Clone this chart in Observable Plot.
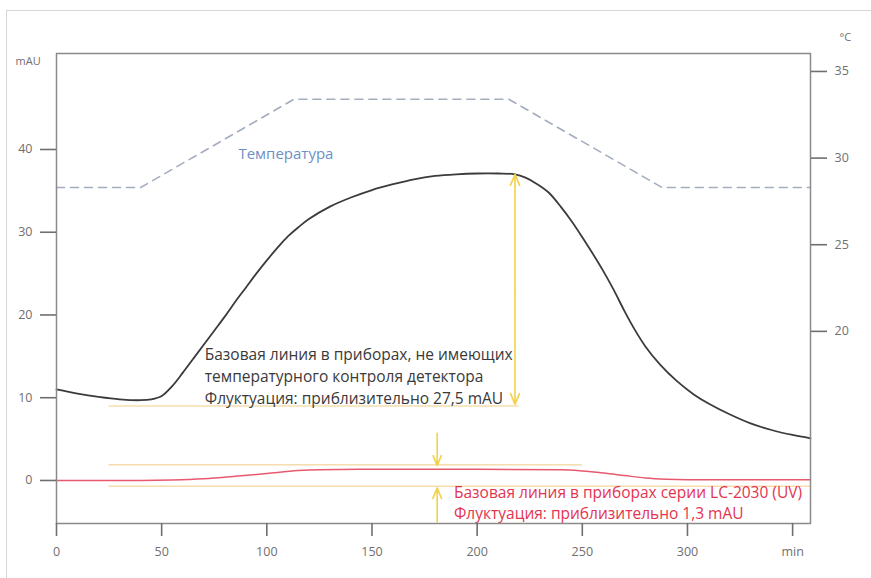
<!DOCTYPE html>
<html><head><meta charset="utf-8">
<script src="https://cdn.jsdelivr.net/npm/d3@7"></script>
<script src="https://cdn.jsdelivr.net/npm/@observablehq/plot@0.6"></script>
<style>
body{margin:0;background:#fff;}
#wrap{position:relative;width:871px;height:578px;overflow:hidden;border-left:1.5px solid #d6d6d6;border-top:1.5px solid #d6d6d6;box-sizing:border-box;margin-left:6px;margin-top:10px;}
</style></head><body><div id="wrap"></div>
<script>
// Detector signal without temperature control (mAU)
const timeMin = [0,10,20,30,40,45,50,55,60,65,70,75,80,85,90,95,100,105,110,115,120,130,140,150,160,170,180,190,200,210,218,223,228,234,240,245,250,255,260,265,270,275,280,287,295,303,310,320,330,340,350,358.5];
const absorbance = [11.0,10.5,10.1,9.8,9.7,9.8,10.2,11.4,13.0,14.7,16.4,18.1,19.8,21.6,23.3,25.0,26.6,28.1,29.5,30.6,31.6,33.1,34.2,35.1,35.8,36.4,36.8,37.0,37.1,37.1,37.0,36.6,35.9,34.8,33.0,31.3,29.4,27.4,25.3,23.0,20.5,18.2,16.2,14.0,12.0,10.4,9.3,8.0,6.9,6.1,5.5,5.1];
// LC-2030 baseline (mAU)
const lcTime = [0,40,55,70,85,100,115,125,150,200,240,250,260,270,280,290,300,358.5];
const lcValue = [0,0,0.05,0.2,0.5,0.85,1.2,1.3,1.35,1.35,1.3,1.15,0.9,0.6,0.3,0.15,0.1,0.1];
// Temperature programme (°C)
const tempTime = [0,40,113,215,288,358.5];
const tempValue = [28.3,28.3,33.4,33.4,28.3,28.3];
const tempTicks = [20,25,30,35];
const tempToMAU = T => 49.43 - (35 - T) * 2.094;
// Axes
const xTicks = [0,50,100,150,200,250,300,350];
const xTickLabels = ["0","50","100","150","200","250","300","min"];
const yTicks = [0,10,20,30,40];
// Reference (fluctuation) levels
const refLevel = [9.0, 1.9, -0.7];
const refStart = [25, 25, 25];
const refEnd = [220, 250, 358.5];
// Arrows
const arrowX = [218, 218, 181, 181];
const arrowFrom = [23, 23, 5.7, -5.0];
const arrowTo = [37.0, 9.2, 1.8, -0.9];
// Annotations
const noteLines = ["Базовая линия в приборах, не имеющих","температурного контроля детектора","Флуктуация: приблизительно 27,5 mAU"];
const noteX = 70.5;
const noteY = [15.2, 12.55, 9.9];
const lcLines = ["Базовая линия в приборах серии LC-2030 (UV)","Флуктуация: приблизительно 1,3 mAU"];
const lcX = 189;
const lcY = [-1.55, -4.0];
const tempLabel = "Температура";
const tempLabelX = 86.5, tempLabelY = 39.4;

const sig = timeMin.map((t,i)=>({t, v: absorbance[i]}));
const lc = lcTime.map((t,i)=>({t, v: lcValue[i]}));
const temp = tempTime.map((t,i)=>({t, v: tempToMAU(tempValue[i])}));
const refs = refLevel.map((y,i)=>({y, x1: refStart[i], x2: refEnd[i]}));
const arrows = arrowX.map((x,i)=>({x, y1: arrowFrom[i], y2: arrowTo[i]}));
const notes = noteLines.map((s,i)=>({s, x: noteX, y: noteY[i]}));
const lcNotes = lcLines.map((s,i)=>({s, x: lcX, y: lcY[i]}));
const tempNote = [{s: tempLabel, x: tempLabelX, y: tempLabelY}];

const chart = Plot.plot({
  width: 865, height: 568,
  marginLeft: 49, marginRight: 62, marginTop: 42, marginBottom: 56,
  x: {domain: [0, 358.5]},
  y: {domain: [-5.2, 51.6]},
  style: {fontFamily: "Open Sans, sans-serif", fontSize: "12.5px", background: "white"},
  marks: [
    Plot.ruleY(refs, {y: "y", x1: "x1", x2: "x2", stroke: "#f6dcae", strokeWidth: 1.4}),
    Plot.line(temp, {x: "t", y: "v", stroke: "#a3adbf", strokeWidth: 1.6, strokeDasharray: "8,6"}),
    Plot.line(lc, {x: "t", y: "v", stroke: "#e8596f", strokeWidth: 1.5, curve: "monotone-x"}),
    Plot.line(sig, {x: "t", y: "v", stroke: "#3b3b3b", strokeWidth: 1.8, curve: "catmull-rom"}),
    Plot.arrow(arrows, {x: "x", y1: "y1", y2: "y2", stroke: "#f3d24a", strokeWidth: 1.6, headLength: 11, headAngle: 45}),
    Plot.text(notes, {x: "x", y: "y", text: "s", textAnchor: "start", lineAnchor: "middle", fill: "#3a3a3a", fontSize: 15.5}),
    Plot.text(lcNotes, {x: "x", y: "y", text: "s", textAnchor: "start", lineAnchor: "middle", fill: "#e3344f", fontSize: 15.5}),
    Plot.text(tempNote, {x: "x", y: "y", text: "s", textAnchor: "start", lineAnchor: "middle", fill: "#6e8fc6", fontSize: 15}),
    Plot.text(["mAU"], {frameAnchor: "top-left", dx: -41, dy: 8, textAnchor: "start", lineAnchor: "middle", fill: "#6f6f6f", fontSize: 11}),
    Plot.text(["°C"], {frameAnchor: "top-right", dx: 29, dy: -16, textAnchor: "start", lineAnchor: "middle", fill: "#6f6f6f", fontSize: 11}),
    Plot.frame({stroke: "#8a8a8a", strokeWidth: 1.5}),
    Plot.axisY(yTicks, {anchor: "left", tickSize: 16, tickPadding: 8, label: null, stroke: "#6f6f6f", fill: "#6f6f6f", strokeWidth: 1.6, fontSize: 12.5}),
    Plot.axisY(tempTicks.map(tempToMAU), {anchor: "right", tickSize: 16, tickPadding: 8, label: null, stroke: "#6f6f6f", fill: "#6f6f6f", strokeWidth: 1.6, fontSize: 12.5,
      tickFormat: d => tempTicks.find(t => Math.abs(tempToMAU(t) - d) < 1e-6)}),
    Plot.axisX(xTicks, {anchor: "bottom", tickSize: 13, tickPadding: 11, label: null, stroke: "#6f6f6f", fill: "#6f6f6f", strokeWidth: 1.6, fontSize: 12.5,
      tickFormat: d => xTickLabels[xTicks.indexOf(d)]})
  ]
});
document.getElementById("wrap").append(chart);
</script></body></html>
